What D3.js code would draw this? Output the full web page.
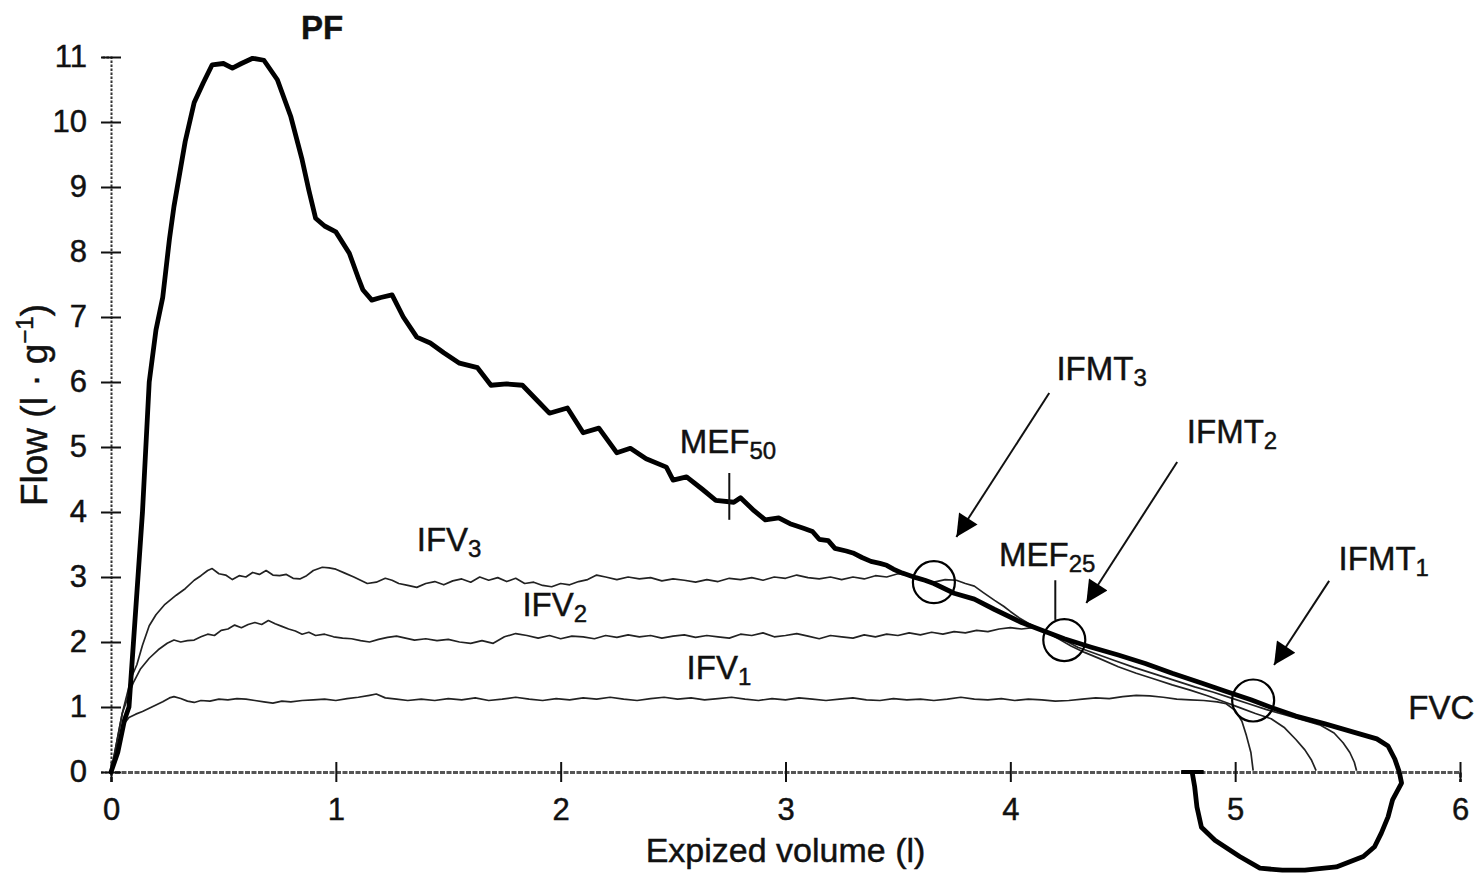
<!DOCTYPE html>
<html>
<head>
<meta charset="utf-8">
<script src="https://cdn.jsdelivr.net/npm/d3@7"></script>
<style>
  html, body { margin: 0; padding: 0; background: #fff; }
  svg { display: block; }
  text { font-family: "Liberation Sans", Arial, Helvetica, sans-serif; fill: #111; stroke: #111; stroke-width: 0.45px; }
</style>
</head>
<body>
<svg id="chart" width="1476" height="879"></svg>
<script>
// Axis ticks
const xTicks = [0, 1, 2, 3, 4, 5, 6];
const yTicks = [0, 1, 2, 3, 4, 5, 6, 7, 8, 9, 10, 11];

// Maximal expiratory flow-volume curve followed by the inspiratory loop: [volume (l), flow]
const maxCurve = [
  [0,0],[0.03,0.3],[0.06,0.8],[0.08,1.0],[0.10,2.0],[0.12,3.0],[0.14,4.0],[0.155,5.0],[0.17,6.0],
  [0.2,6.8],[0.23,7.3],[0.26,8.2],[0.28,8.7],[0.31,9.3],[0.33,9.7],[0.37,10.3],[0.41,10.6],
  [0.45,10.88],[0.5,10.9],[0.54,10.83],[0.58,10.9],[0.63,10.98],[0.68,10.95],[0.74,10.65],
  [0.80,10.08],[0.85,9.42],[0.88,8.95],[0.91,8.52],[0.95,8.4],[1.0,8.31],[1.06,7.98],[1.1,7.6],
  [1.12,7.42],[1.16,7.26],[1.2,7.3],[1.25,7.34],[1.3,7.0],[1.36,6.69],[1.42,6.6],[1.48,6.45],
  [1.55,6.29],[1.63,6.22],[1.69,5.95],[1.76,5.97],[1.83,5.95],[1.9,5.7],[1.95,5.52],[2.03,5.6],
  [2.10,5.22],[2.17,5.29],[2.25,4.91],[2.31,4.98],[2.38,4.82],[2.47,4.69],[2.5,4.49],[2.56,4.54],
  [2.63,4.35],[2.69,4.18],[2.77,4.15],[2.8,4.22],[2.86,4.02],[2.91,3.88],[2.97,3.91],[3.02,3.82],
  [3.08,3.75],[3.12,3.7],[3.15,3.58],[3.19,3.56],[3.22,3.44],[3.27,3.4],[3.3,3.37],[3.34,3.3],
  [3.38,3.24],[3.42,3.21],[3.45,3.18],[3.48,3.12],[3.52,3.06],[3.58,2.99],[3.62,2.95],
  [3.66,2.9],[3.75,2.75],[3.84,2.66],[3.93,2.5],[4.05,2.3],[4.14,2.18],[4.24,2.05],[4.36,1.92],
  [4.48,1.8],[4.60,1.67],[4.72,1.52],[4.85,1.37],[4.96,1.24],[5.07,1.11],[5.17,0.98],[5.27,0.86],
  [5.4,0.74],[5.53,0.61],[5.63,0.51],[5.68,0.4],[5.71,0.2],[5.73,0.0],[5.74,-0.17],[5.70,-0.43],
  [5.68,-0.69],[5.65,-0.94],[5.62,-1.15],[5.57,-1.30],[5.45,-1.46],[5.31,-1.51],[5.21,-1.51],
  [5.11,-1.48],[5.02,-1.3],[4.91,-1.05],[4.85,-0.85],[4.83,-0.54],[4.82,-0.23],[4.81,-0.03]
];

// Tidal flow-volume traces at three breathing levels
const ifv3 = [
  [0,0],[0.05,0.9],[0.09,1.45],[0.115,1.65],[0.14,1.95],[0.17,2.25],[0.2,2.42],[0.24,2.58],
  [0.29,2.72],[0.33,2.82],[0.37,2.95],[0.4,3.02],[0.43,3.1],[0.45,3.13],[0.48,3.05],[0.51,3.03],
  [0.54,2.96],[0.57,3.02],[0.6,3.0],[0.63,3.07],[0.66,3.04],[0.69,3.1],[0.72,3.03],[0.75,3.02],
  [0.78,3.04],[0.81,2.98],[0.84,2.97],[0.87,3.02],[0.9,3.1],[0.94,3.15],[0.97,3.14],[1.0,3.12],
  [1.04,3.06],[1.08,3.0],[1.11,2.95],[1.14,2.9],[1.18,2.92],[1.22,2.98],[1.25,2.95],[1.28,2.9],
  [1.32,2.87],[1.36,2.84],[1.4,2.9],[1.44,2.93],[1.48,2.88],[1.52,2.94],[1.56,2.97],[1.6,2.92],
  [1.64,3.0],[1.68,2.95],[1.72,2.99],[1.76,2.93],[1.8,2.98],[1.84,2.9],[1.88,2.92],[1.92,2.87],
  [1.96,2.85],[2.0,2.9],[2.04,2.88],[2.08,2.93],[2.12,2.96],[2.16,3.03],[2.2,3.0],[2.25,2.96],
  [2.3,3.0],[2.35,2.97],[2.4,2.99],[2.45,2.94],[2.5,2.97],[2.55,2.95],[2.6,2.92],[2.65,2.96],
  [2.7,2.93],[2.75,2.98],[2.8,2.96],[2.85,2.99],[2.9,2.95],[2.95,3.0],[3.0,2.98],[3.05,3.03],
  [3.1,2.99],[3.15,2.97],[3.2,3.0],[3.25,2.96],[3.3,3.0],[3.35,2.97],[3.4,3.02],[3.45,3.0],
  [3.5,3.05],[3.55,3.02],[3.6,2.96],[3.66,2.92],[3.71,2.96],[3.76,2.95],[3.8,2.9],[3.84,2.86],
  [3.88,2.76],[3.93,2.64],[3.97,2.55],[4.0,2.47],[4.04,2.37],[4.08,2.29],[4.13,2.2],[4.18,2.11],
  [4.22,2.04],[4.27,1.94],[4.33,1.84],[4.4,1.74],[4.48,1.62],[4.56,1.52],[4.64,1.43],[4.72,1.34],
  [4.8,1.26],[4.88,1.17],[4.95,1.08],[5.02,0.99],[5.09,0.9],[5.16,0.82],[5.22,0.68],[5.27,0.5],
  [5.31,0.34],[5.34,0.18],[5.36,0.02]
];
const ifv2 = [
  [0,0],[0.05,0.9],[0.08,1.2],[0.1,1.38],[0.13,1.58],[0.17,1.75],[0.21,1.88],[0.25,1.98],
  [0.28,2.03],[0.31,2.0],[0.34,2.02],[0.37,2.03],[0.4,2.08],[0.43,2.12],[0.46,2.1],[0.49,2.18],
  [0.52,2.2],[0.55,2.26],[0.58,2.22],[0.61,2.27],[0.64,2.3],[0.67,2.27],[0.7,2.33],[0.73,2.28],
  [0.76,2.24],[0.79,2.2],[0.82,2.17],[0.85,2.12],[0.88,2.15],[0.91,2.1],[0.95,2.12],[0.99,2.08],
  [1.03,2.06],[1.07,2.05],[1.11,2.02],[1.15,2.0],[1.19,2.04],[1.23,2.07],[1.27,2.09],[1.31,2.06],
  [1.35,2.03],[1.4,2.05],[1.45,2.02],[1.5,2.04],[1.55,2.0],[1.6,1.98],[1.65,2.02],[1.7,1.98],
  [1.75,2.08],[1.8,2.13],[1.85,2.1],[1.9,2.06],[1.95,2.1],[2.0,2.05],[2.05,2.09],[2.1,2.08],
  [2.15,2.05],[2.2,2.1],[2.25,2.07],[2.3,2.11],[2.35,2.08],[2.4,2.1],[2.45,2.06],[2.5,2.09],
  [2.55,2.11],[2.6,2.07],[2.65,2.1],[2.7,2.08],[2.75,2.06],[2.8,2.12],[2.85,2.1],[2.9,2.14],
  [2.95,2.08],[3.0,2.1],[3.05,2.13],[3.1,2.09],[3.15,2.05],[3.2,2.1],[3.25,2.08],[3.3,2.06],
  [3.35,2.11],[3.4,2.08],[3.45,2.12],[3.5,2.1],[3.55,2.14],[3.6,2.11],[3.65,2.15],[3.7,2.12],
  [3.75,2.16],[3.8,2.14],[3.85,2.18],[3.9,2.16],[3.95,2.2],[4.0,2.22],[4.05,2.2],[4.1,2.22],
  [4.15,2.18],[4.2,2.1],[4.24,2.03],[4.3,1.92],[4.38,1.82],[4.46,1.72],[4.55,1.61],[4.64,1.51],
  [4.73,1.41],[4.82,1.31],[4.9,1.23],[4.98,1.14],[5.06,1.05],[5.14,0.96],[5.22,0.88],[5.3,0.8],
  [5.38,0.72],[5.44,0.6],[5.48,0.45],[5.51,0.3],[5.53,0.15],[5.54,0.02]
];
const ifv1 = [
  [0,0],[0.03,0.4],[0.06,0.75],[0.08,0.84],[0.11,0.89],[0.14,0.93],[0.17,0.98],[0.2,1.03],
  [0.23,1.08],[0.26,1.14],[0.28,1.16],[0.31,1.13],[0.34,1.09],[0.37,1.07],[0.4,1.1],[0.44,1.09],
  [0.48,1.12],[0.52,1.11],[0.56,1.13],[0.6,1.12],[0.64,1.1],[0.68,1.08],[0.72,1.06],[0.76,1.09],
  [0.8,1.08],[0.85,1.1],[0.9,1.11],[0.95,1.12],[1.0,1.1],[1.05,1.13],[1.1,1.15],[1.15,1.18],
  [1.18,1.2],[1.22,1.14],[1.27,1.12],[1.32,1.1],[1.38,1.12],[1.44,1.1],[1.5,1.13],[1.56,1.11],
  [1.62,1.14],[1.68,1.1],[1.74,1.12],[1.8,1.15],[1.86,1.12],[1.92,1.1],[1.98,1.13],[2.04,1.11],
  [2.1,1.14],[2.16,1.12],[2.22,1.15],[2.28,1.12],[2.34,1.1],[2.4,1.13],[2.46,1.15],[2.52,1.12],
  [2.58,1.14],[2.64,1.11],[2.7,1.13],[2.76,1.15],[2.82,1.12],[2.88,1.1],[2.94,1.13],[3.0,1.11],
  [3.06,1.14],[3.12,1.12],[3.18,1.1],[3.24,1.12],[3.3,1.14],[3.36,1.11],[3.42,1.1],[3.48,1.13],
  [3.54,1.11],[3.6,1.12],[3.66,1.1],[3.72,1.12],[3.78,1.15],[3.84,1.12],[3.9,1.11],[3.96,1.13],
  [4.02,1.1],[4.08,1.12],[4.14,1.11],[4.2,1.09],[4.26,1.1],[4.32,1.12],[4.38,1.14],[4.44,1.13],
  [4.5,1.16],[4.56,1.18],[4.62,1.17],[4.68,1.15],[4.74,1.12],[4.8,1.11],[4.86,1.1],[4.92,1.08],
  [4.96,1.05],[5.0,0.95],[5.03,0.78],[5.05,0.56],[5.07,0.3],[5.08,0.02]
];

// Intersections of the tidal traces with the maximal curve (IFMT1..3)
const ifmtPoints = [[5.08, 1.1], [4.24, 2.03], [3.66, 2.92]];

// Arrows pointing at the intersections: [from x, from y, to x, to y]
const arrows = [
  [5.418, 2.94, 5.173, 1.646],
  [4.742, 4.77, 4.338, 2.60],
  [4.173, 5.83, 3.760, 3.615]
];

// Short markers for mid-expiratory flows: [x, y low, y high]
const mefMarks = [[2.75, 3.88, 4.60], [4.20, 2.34, 2.95]];

// Text annotations: [main text, subscript, x, y, weight]
const labels = [
  ["PF", "", 0.845, 11.27, "bold"],
  ["MEF", "50", 2.53, 4.91, "normal"],
  ["MEF", "25", 3.95, 3.17, "normal"],
  ["IFV", "3", 1.36, 3.40, "normal"],
  ["IFV", "2", 1.83, 2.40, "normal"],
  ["IFV", "1", 2.56, 1.43, "normal"],
  ["IFMT", "3", 4.205, 6.03, "normal"],
  ["IFMT", "2", 4.785, 5.06, "normal"],
  ["IFMT", "1", 5.46, 3.11, "normal"],
  ["FVC", "", 5.77, 0.82, "normal"]
];

const svg = d3.select("#chart");
const x = d3.scaleLinear().domain([0, 6]).range([111, 1460]);
const y = d3.scaleLinear().domain([0, 11]).range([772, 57]);
const fmt = d3.format("d");

// Axes
const gx = svg.append("g").attr("transform", `translate(0,${y(0)})`)
  .call(d3.axisBottom(x).tickValues(xTicks).tickFormat(fmt).tickSizeOuter(0).tickSize(10).tickPadding(16));
gx.select(".domain").attr("stroke", "#555").attr("stroke-width", 3).attr("stroke-dasharray", "5 1.5");
gx.selectAll(".tick line").attr("y1", -10).attr("y2", 10).attr("stroke", "#111").attr("stroke-width", 2);
gx.selectAll(".tick text").attr("font-size", 31).attr("fill", "#111")
  .style("font-family", '"Liberation Sans", Arial, sans-serif');

const gy = svg.append("g").attr("transform", `translate(${x(0)},0)`)
  .call(d3.axisLeft(y).tickValues(yTicks).tickFormat(fmt).tickSizeOuter(0).tickSize(10).tickPadding(14));
gy.select(".domain").attr("stroke", "#333").attr("stroke-width", 2).attr("stroke-dasharray", "2.5 1.5");
gy.selectAll(".tick line").attr("x1", -10).attr("x2", 10).attr("stroke", "#111").attr("stroke-width", 2);
gy.selectAll(".tick text").attr("font-size", 31).attr("fill", "#111")
  .style("font-family", '"Liberation Sans", Arial, sans-serif');

// Axis titles
svg.append("text").attr("x", x(3)).attr("y", 862).attr("text-anchor", "middle")
  .attr("font-size", 34).text("Expized volume (l)");
const yt = svg.append("text").attr("transform", "translate(47,405) rotate(-90)")
  .attr("text-anchor", "middle").attr("font-size", 37);
yt.append("tspan").text("Flow (l · g");
yt.append("tspan").attr("font-size", 24).attr("dy", -14).text("−1");
yt.append("tspan").attr("dy", 14).text(")");

const line = d3.line().x(d => x(d[0])).y(d => y(d[1]));

// Tidal traces
[ifv1, ifv2, ifv3].forEach(s => {
  svg.append("path").datum(s).attr("d", line)
    .attr("fill", "none").attr("stroke", "#222").attr("stroke-width", 1.7)
    .attr("stroke-linejoin", "round");
});

// Maximal curve
svg.append("path").datum(maxCurve).attr("d", line)
  .attr("fill", "none").attr("stroke", "#000").attr("stroke-width", 4.8)
  .attr("stroke-linejoin", "round").attr("stroke-linecap", "round");

// Small tick at the end of the inspiratory loop
svg.append("line").attr("x1", x(4.76)).attr("x2", x(4.86)).attr("y1", y(0.0)).attr("y2", y(0.0))
  .attr("stroke", "#000").attr("stroke-width", 4);

// MEF markers
svg.selectAll(".mef").data(mefMarks).join("line")
  .attr("x1", d => x(d[0])).attr("x2", d => x(d[0]))
  .attr("y1", d => y(d[1])).attr("y2", d => y(d[2]))
  .attr("stroke", "#111").attr("stroke-width", 2);

// IFMT circles
svg.selectAll(".ifmt").data(ifmtPoints).join("circle")
  .attr("cx", d => x(d[0])).attr("cy", d => y(d[1])).attr("r", 21)
  .attr("fill", "none").attr("stroke", "#000").attr("stroke-width", 2.2);

// Arrows
svg.append("defs").append("marker").attr("id", "head")
  .attr("viewBox", "0 0 10 10").attr("refX", 10).attr("refY", 5)
  .attr("markerWidth", 14).attr("markerHeight", 11).attr("markerUnits", "strokeWidth")
  .attr("orient", "auto")
  .append("path").attr("d", "M0,0 L10,5 L0,10 Z").attr("fill", "#000");
svg.selectAll(".arrow").data(arrows).join("line")
  .attr("x1", d => x(d[0])).attr("y1", d => y(d[1]))
  .attr("x2", d => x(d[2])).attr("y2", d => y(d[3]))
  .attr("stroke", "#111").attr("stroke-width", 2).attr("marker-end", "url(#head)");

// Annotation labels with subscripts
labels.forEach(([main, sub, lx, ly, w]) => {
  const t = svg.append("text").attr("x", x(lx)).attr("y", y(ly))
    .attr("font-size", 33).attr("font-weight", w);
  t.append("tspan").text(main);
  if (sub) t.append("tspan").attr("font-size", 24).attr("dy", 6).text(sub);
});
</script>
</body>
</html>
